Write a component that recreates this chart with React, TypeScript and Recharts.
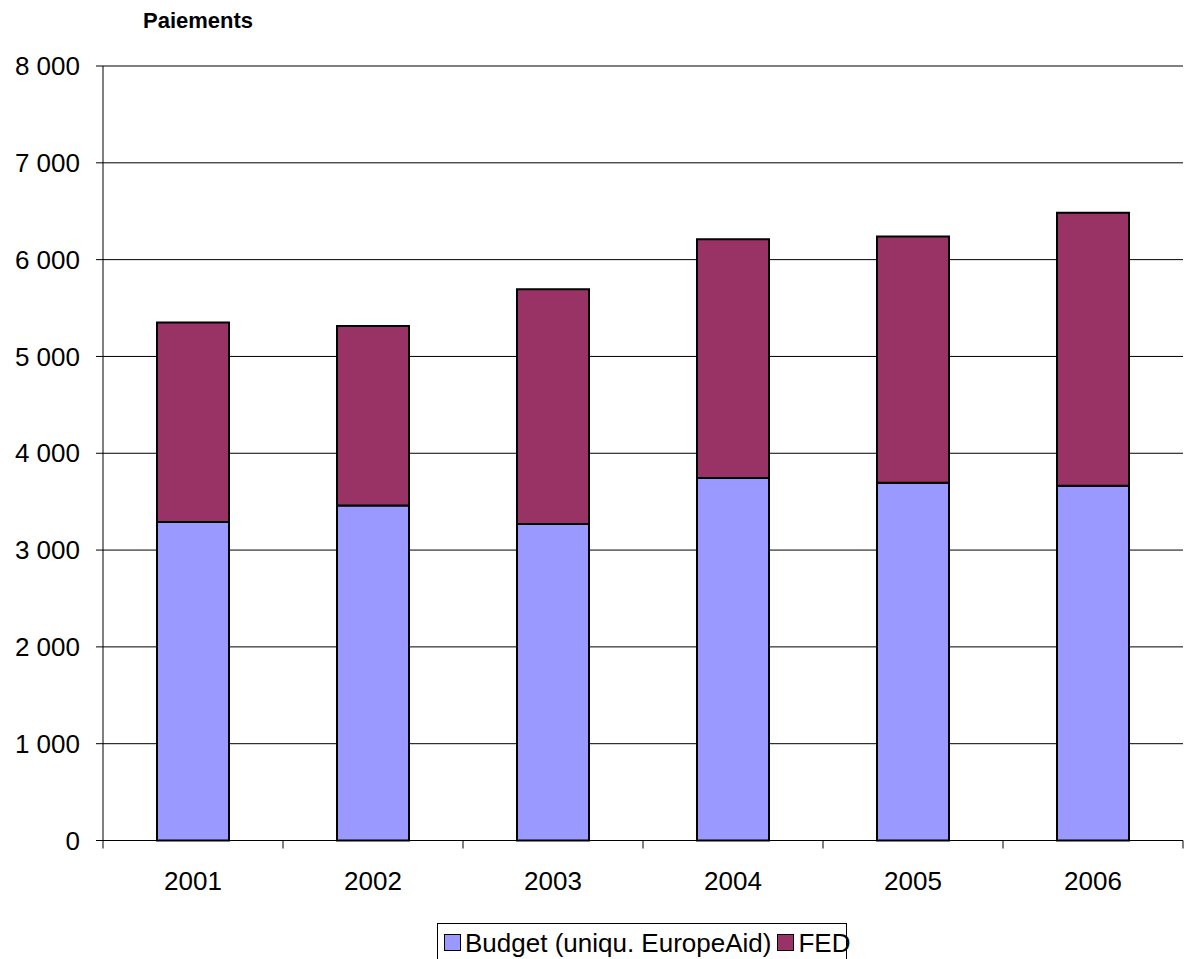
import { BarChart, Bar, XAxis, YAxis, CartesianGrid, Legend } from 'recharts';

const years = ['2001', '2002', '2003', '2004', '2005', '2006'];
const budget = [3290, 3460, 3270, 3745, 3695, 3665];
const fed = [2060, 1855, 2425, 2465, 2545, 2820];
const yTicks = [0, 1000, 2000, 3000, 4000, 5000, 6000, 7000, 8000];

const FONT = '"Liberation Sans", Arial, sans-serif';
const BUDGET_COLOR = '#9999FF';
const FED_COLOR = '#993366';

const data = years.map((y, i) => ({ year: y, budget: budget[i], fed: fed[i] }));

const fmt = (v: number) => String(v).replace(/\B(?=(\d{3})+(?!\d))/g, ' ');

function LegendBox() {
  const item = (color: string, label: string) => (
    <span style={{ display: 'inline-flex', alignItems: 'center', marginRight: 6 }}>
      <span style={{
        display: 'inline-block', width: 15, height: 15, background: color,
        border: '1.5px solid #000', marginRight: 4
      }} />
      {label}
    </span>
  );
  return (
    <div style={{
      border: '1px solid #000',
      background: '#fff',
      fontFamily: FONT,
      fontSize: 26,
      color: '#000',
      padding: '4px 0 4px 6px',
      whiteSpace: 'nowrap',
      lineHeight: '28px',
      boxSizing: 'border-box',
      width: 410
    }}>
      {item(BUDGET_COLOR, 'Budget (uniqu. EuropeAid)')}
      {item(FED_COLOR, 'FED')}
    </div>
  );
}

// category label plus tick marks on the category boundaries (Excel style)
function YearTick(props: any) {
  const { x, y, payload, index } = props;
  const half = payload && payload.offset ? payload.offset : 90;
  const last = index === years.length - 1;
  return (
    <g>
      <line x1={x - half} x2={x - half} y1={y} y2={y + 8} stroke="#000" />
      {last && <line x1={x + half} x2={x + half} y1={y} y2={y + 8} stroke="#000" />}
      <text x={x} y={y + 31} dy="0.71em" textAnchor="middle" fill="#000" fontSize={26} fontFamily={FONT}>
        {payload.value}
      </text>
    </g>
  );
}

export default function App() {
  return (
    <div style={{ position: 'relative', width: 1192, height: 959, background: '#fff' }}>
      <style>{'body{margin:0}'}</style>
      <div style={{
        position: 'absolute', left: 143, top: 8, fontFamily: FONT,
        fontWeight: 'bold', fontSize: 22, color: '#000'
      }}>
        Paiements
      </div>
      <BarChart
        width={1192}
        height={959}
        data={data}
        margin={{ top: 66, right: 9, left: 0, bottom: 0 }}
        barCategoryGap="30%"
      >
        <CartesianGrid vertical={false} stroke="#000" strokeWidth={1} />
        <XAxis
          dataKey="year"
          height={80}
          tickLine={false}
          tickSize={0}
          tickMargin={0}
          axisLine={{ stroke: '#000' }}
          tick={YearTick}
          interval={0}
        />
        <YAxis
          width={103}
          domain={[0, 8000]}
          ticks={yTicks}
          tickFormatter={fmt}
          tickSize={7}
          tickMargin={16}
          axisLine={{ stroke: '#000' }}
          tickLine={{ stroke: '#000' }}
          tick={{ fill: '#000', fontSize: 26, fontFamily: FONT }}
          interval={0}
        />
        <Legend
          verticalAlign="bottom"
          content={() => <LegendBox />}
          wrapperStyle={{ left: 437, top: 923, width: 410, bottom: 'auto' }}
        />
        <Bar dataKey="budget" stackId="a" fill={BUDGET_COLOR} stroke="#000" strokeWidth={2} isAnimationActive={false} />
        <Bar dataKey="fed" stackId="a" fill={FED_COLOR} stroke="#000" strokeWidth={2} isAnimationActive={false} />
      </BarChart>
    </div>
  );
}
